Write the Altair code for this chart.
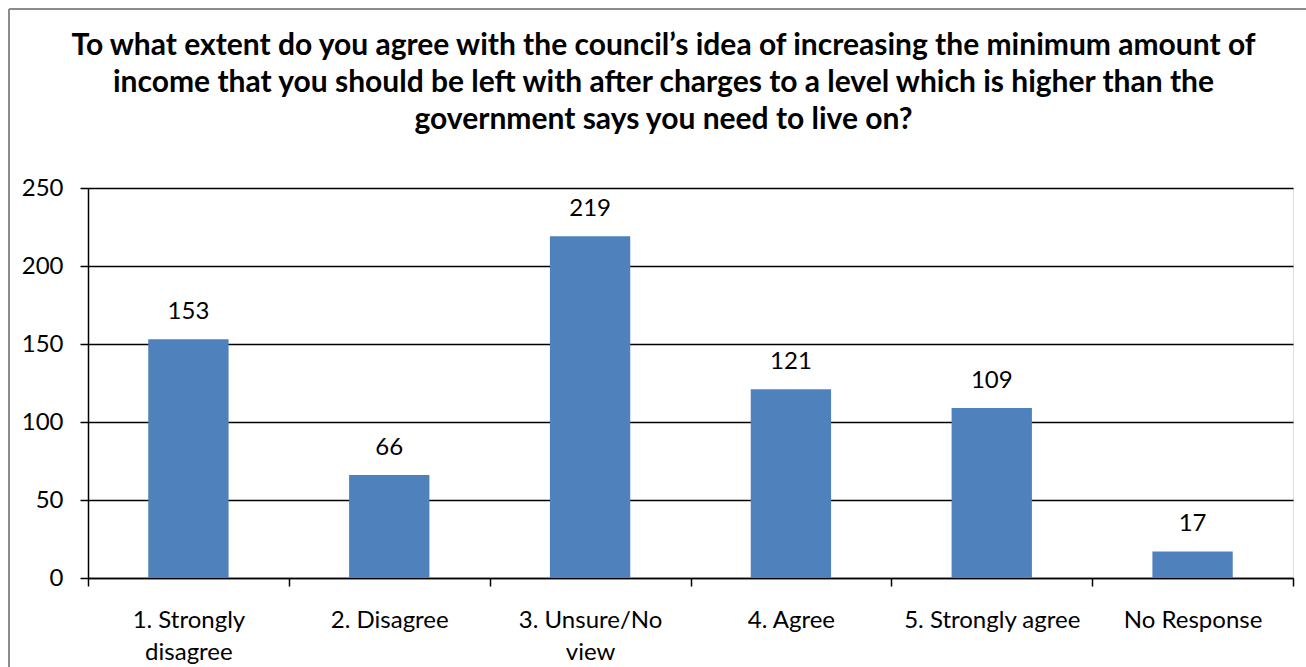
import altair as alt
import pandas as pd

categories = ["1. Strongly disagree", "2. Disagree", "3. Unsure/No view",
              "4. Agree", "5. Strongly agree", "No Response"]
counts = [153, 66, 219, 121, 109, 17]
title_lines = [
    "To what extent do you agree with the council\u2019s idea of increasing the minimum amount of",
    "income that you should be left with after charges to a level which is higher than the",
    "government says you need to live on?",
]
y_ticks = [0, 50, 100, 150, 200, 250]

df = pd.DataFrame({"category": categories, "count": counts})

FONT = "Lato"
FS = 24
label_expr = ("datum.value == '1. Strongly disagree' ? ['1. Strongly', 'disagree'] : "
              "datum.value == '3. Unsure/No view' ? ['3. Unsure/No', 'view'] : datum.value")

x_enc = alt.X("category:N", sort=categories, title=None,
              scale=alt.Scale(paddingInner=0, paddingOuter=0),
              axis=alt.Axis(labelAngle=0, labelExpr=label_expr, tickBand="extent",
                            tickSize=8, tickColor="black", tickWidth=1.5,
                            domainColor="black", domainWidth=1.5,
                            labelFont=FONT, labelFontSize=FS, labelColor="black",
                            labelPadding=22, labelLineHeight=32, grid=False))
y_enc = alt.Y("count:Q", title=None,
              scale=alt.Scale(domain=[0, 250], nice=False),
              axis=alt.Axis(values=y_ticks, tickSize=8, tickColor="black", tickWidth=1.5,
                            domainColor="black", domainWidth=1.5,
                            grid=True, gridColor="black", gridWidth=1.5,
                            labelFont=FONT, labelFontSize=FS, labelColor="black",
                            labelPadding=17))

bars = alt.Chart(df).mark_bar(color="#4F81BD", width=alt.RelativeBandSize(0.4)).encode(
    x=x_enc, y=y_enc)

labels = alt.Chart(df).mark_text(font=FONT, fontSize=FS, color="black",
                                 baseline="alphabetic", dy=-20).encode(
    x=alt.X("category:N", sort=categories),
    y=alt.Y("count:Q"),
    text=alt.Text("count:Q"))

border_left = alt.Chart(df).mark_rule(color="#8c8c8c", strokeWidth=2).encode(
    x=alt.value(-79), y=alt.value(-179), y2=alt.value(479))
border_top = alt.Chart(df).mark_rule(color="#8c8c8c", strokeWidth=2).encode(
    x=alt.value(-79), x2=alt.value(1218), y=alt.value(-179))

chart = alt.layer(bars, labels, border_left, border_top).properties(
    width=1205, height=390,
    title=alt.TitleParams(text=title_lines, font=FONT, fontSize=30, fontWeight="bold",
                          color="black", lineHeight=37, anchor="middle", dx=-27,
                          offset=-127),
    autosize=alt.AutoSizeParams(type="none"),
    padding={"left": 88, "top": 188, "right": 13, "bottom": 89},
).configure_view(stroke=None).configure(background="white")

chart.save("out.html", embed_options={"renderer": "svg", "actions": False})
